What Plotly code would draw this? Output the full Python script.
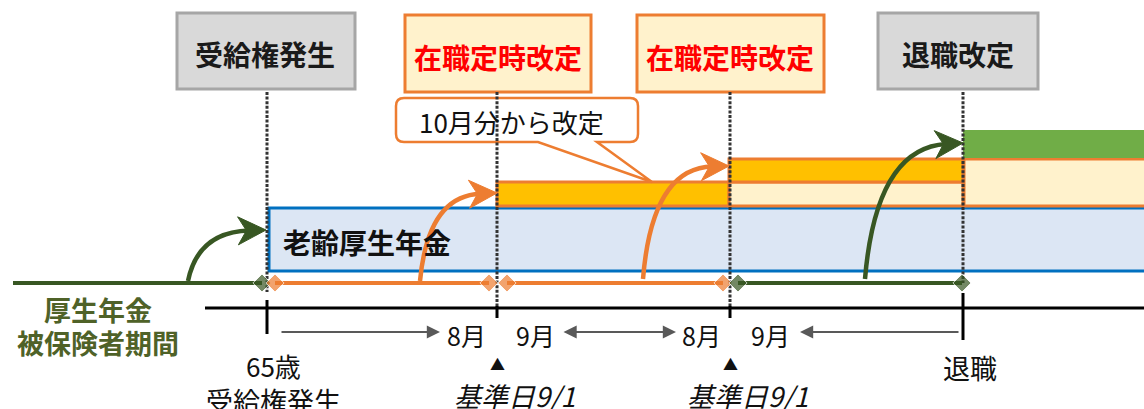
import plotly.graph_objects as go
import math

# ---------------- data ----------------
W, H = 1144, 409
FONT = "Noto Sans CJK JP"

event_x = [267, 497, 730, 963]                       # event positions on the timeline
box_labels = ["受給権発生", "在職定時改定", "在職定時改定", "退職改定"]
box_kind = ["gray", "orange", "orange", "gray"]
box_x0 = [177, 405, 637, 878]
box_x1 = [355, 591, 824, 1038]
box_text_x = [265, 498, 730, 958]

month_labels = ["8月", "9月", "8月", "9月"]
month_x = [466, 535, 701, 770]
kijun_labels = ["基準日9/1", "基準日9/1"]
kijun_x = [515, 748]

period_label = ["厚生年金", "被保険者期間"]
pension_label = "老齢厚生年金"
callout_label = "10月分から改定"
start_labels = ["65歳", "受給権発生"]
retire_label = "退職"

# timeline segments (x0, x1, colour, show left diamond)
seg_x0 = [13, 275, 507, 738]
seg_x1 = [262, 489, 723, 962]
seg_col = ["#385723", "#ed7d31", "#ed7d31", "#385723"]
seg_left_marker = [False, True, True, True]

# benefit bars
bars = [
    # x0, x1, y0, y1, fill, line
    (269, 1150, 208, 271, "#dce6f4", "#0070c0"),
    (497, 729, 182, 206, "#ffc000", "#ed7d31"),
    (729, 963, 182, 206, "#fff2cc", "#ed7d31"),
    (729, 963, 159, 182, "#ffc000", "#ed7d31"),
    (964, 1150, 159, 206, "#fff2cc", "#ed7d31"),
]
green_bar = (963, 1150, 130, 158, "#70ad47")

# curved arrows: start, control, tip, colour
curves = [
    ((188, 281), (198, 232), (266, 230), "#385723"),
    ((420, 281), (428, 196), (497, 193), "#ed7d31"),
    ((643, 279), (652, 168), (729, 166), "#ed7d31"),
    ((865, 279), (876, 148), (963, 143), "#385723"),
]

# gray span arrows at y=332 (x_from, x_to, both ends)
span_arrows = [(280, 440, False), (562, 676, True), (960, 800, False)]

# ---------------- figure ----------------
fig = go.Figure()
shapes = []
ann = []

# boxes
for x0, x1, kind in zip(box_x0, box_x1, box_kind):
    y0, y1 = (13, 89) if kind == "gray" else (15, 92)
    shapes.append(dict(type="rect", x0=x0, x1=x1, y0=y0, y1=y1,
                       fillcolor="#d9d9d9" if kind == "gray" else "#fff2cc",
                       line=dict(color="#a6a6a6" if kind == "gray" else "#ed7d31", width=3),
                       layer="below"))
for lab, tx, kind in zip(box_labels, box_text_x, box_kind):
    ann.append(dict(x=tx, y=54 if kind == "gray" else 57, text="<b>%s</b>" % lab,
                    showarrow=False, font=dict(family=FONT, size=28,
                    color="#1a1a1a" if kind == "gray" else "#ff0000"),
                    xanchor="center", yanchor="middle"))

# bars
for x0, x1, y0, y1, fc, lc in bars:
    shapes.append(dict(type="rect", x0=x0, x1=x1, y0=y0, y1=y1, fillcolor=fc,
                       line=dict(color=lc, width=3), layer="below"))
gx0, gx1, gy0, gy1, gc = green_bar
shapes.append(dict(type="rect", x0=gx0, x1=gx1, y0=gy0, y1=gy1, fillcolor=gc,
                   line=dict(width=0), layer="below"))

# callout
cx0, cx1, cy0, cy1, r = 396, 638, 98, 142, 8
tail = (538, 597, 652, 182)
path = (f"M {cx0+r},{cy0} L {cx1-r},{cy0} Q {cx1},{cy0} {cx1},{cy0+r} "
        f"L {cx1},{cy1-r} Q {cx1},{cy1} {cx1-r},{cy1} L {tail[1]},{cy1} "
        f"L {tail[2]},{tail[3]} L {tail[0]},{cy1} L {cx0+r},{cy1} "
        f"Q {cx0},{cy1} {cx0},{cy1-r} L {cx0},{cy0+r} Q {cx0},{cy0} {cx0+r},{cy0} Z")
shapes.append(dict(type="path", path=path, fillcolor="white",
                   line=dict(color="#ed7d31", width=2.5), layer="below"))
ann.append(dict(x=511, y=121, text=callout_label, showarrow=False,
                font=dict(family=FONT, size=26, color="#111111"),
                xanchor="center", yanchor="middle"))

# dotted event lines
dot_bottom = [292, 307, 307, 283]
for ex, yb in zip(event_x, dot_bottom):
    shapes.append(dict(type="line", x0=ex, x1=ex, y0=92, y1=yb,
                       line=dict(color="#333333", width=3, dash="3px,1.6px"), layer="below"))

# curves + arrowheads
for (s, c, t, col) in curves:
    dx, dy = t[0] - c[0], t[1] - c[1]
    n = math.hypot(dx, dy)
    ux, uy = dx / n, dy / n
    L, Wd = 28, 14
    ex, ey = t[0] - ux * L * 0.6, t[1] - uy * L * 0.6
    shapes.append(dict(type="path",
                       path=f"M {s[0]},{s[1]} Q {c[0]},{c[1]} {ex},{ey}",
                       line=dict(color=col, width=4.5), layer="below"))
    bx, by = t[0] - ux * L, t[1] - uy * L
    px, py = -uy, ux
    lx, ly = bx + px * Wd, by + py * Wd
    rx, ry = bx - px * Wd, by - py * Wd
    nx, ny = t[0] - ux * L * 0.7, t[1] - uy * L * 0.7
    shapes.append(dict(type="path",
                       path=f"M {t[0]},{t[1]} L {lx},{ly} L {nx},{ny} L {rx},{ry} Z",
                       fillcolor=col, line=dict(color=col, width=1), layer="below"))

# axis line and ticks
shapes.append(dict(type="line", x0=205, x1=1150, y0=308, y1=308,
                   line=dict(color="black", width=3), layer="below"))
tick_y = [(300, 334), (306, 318), (306, 318), (293, 340)]
for ex, (t0, t1) in zip(event_x, tick_y):
    shapes.append(dict(type="line", x0=ex, x1=ex, y0=t0, y1=t1,
                       line=dict(color="black", width=3), layer="below"))

# timeline segments
for x0, x1, col, lm in zip(seg_x0, seg_x1, seg_col, seg_left_marker):
    fig.add_trace(go.Scatter(x=[x0, x1], y=[283, 283], mode="lines+markers",
                             line=dict(color=col, width=4),
                             marker=dict(symbol="diamond", size=[14 if lm else 0, 14], color=col),
                             hoverinfo="skip", showlegend=False))

# gray span arrows
for xf, xt, both in span_arrows:
    ann.append(dict(x=xt, y=332, ax=xf, ay=332, axref="x", ayref="y", xref="x", yref="y",
                    showarrow=True, arrowhead=2, arrowsize=1.2, arrowwidth=2.2,
                    arrowcolor="#595959", arrowside="end+start" if both else "end",
                    text=""))

# text labels
for lab, mx in zip(month_labels, month_x):
    ann.append(dict(x=mx, y=335, text=lab, showarrow=False,
                    font=dict(family=FONT, size=25, color="#111111"),
                    xanchor="center", yanchor="middle"))
for ex in event_x[1:3]:
    ann.append(dict(x=ex, y=363, text="▲", showarrow=False,
                    font=dict(family=FONT, size=15, color="#111111"),
                    xanchor="center", yanchor="middle"))
for lab, kx in zip(kijun_labels, kijun_x):
    ann.append(dict(x=kx, y=395, text="<i>%s</i>" % lab, showarrow=False,
                    font=dict(family=FONT, size=27, color="#111111"),
                    xanchor="center", yanchor="middle"))
ann.append(dict(x=273, y=365, text=start_labels[0], showarrow=False,
                font=dict(family=FONT, size=26, color="#111111"), xanchor="center", yanchor="middle"))
ann.append(dict(x=273, y=400, text=start_labels[1], showarrow=False,
                font=dict(family=FONT, size=27, color="#111111"), xanchor="center", yanchor="middle"))
ann.append(dict(x=970, y=367, text=retire_label, showarrow=False,
                font=dict(family=FONT, size=27, color="#111111"), xanchor="center", yanchor="middle"))
ann.append(dict(x=98, y=309, text="<b>%s</b>" % period_label[0], showarrow=False,
                font=dict(family=FONT, size=27, color="#4f6228"), xanchor="center", yanchor="middle"))
ann.append(dict(x=98, y=342, text="<b>%s</b>" % period_label[1], showarrow=False,
                font=dict(family=FONT, size=27, color="#4f6228"), xanchor="center", yanchor="middle"))
ann.append(dict(x=281, y=242, text="<b>%s</b>" % pension_label, showarrow=False,
                font=dict(family=FONT, size=28, color="#111111"), xanchor="left", yanchor="middle"))

fig.update_layout(
    width=W, height=H, margin=dict(l=0, r=0, t=0, b=0),
    paper_bgcolor="white", plot_bgcolor="white",
    xaxis=dict(range=[0, W], visible=False, fixedrange=True),
    yaxis=dict(range=[H, 0], visible=False, fixedrange=True),
    shapes=shapes, annotations=ann, showlegend=False, hovermode=False,
)
fig.write_html("out.html", config={"displayModeBar": False},
               post_script="document.body.style.margin='0';document.body.style.overflow='hidden';")
